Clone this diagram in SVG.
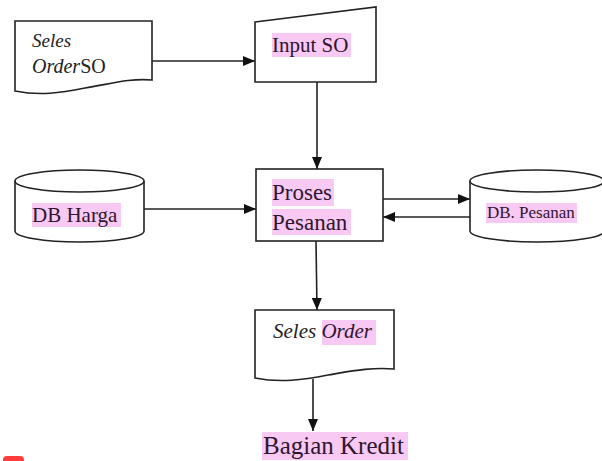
<svg xmlns="http://www.w3.org/2000/svg" width="602" height="461" viewBox="0 0 602 461">
  <style>
    .shape { fill: #ffffff; stroke: #222222; stroke-width: 1.6; }
    .edge { fill: none; stroke: #222222; stroke-width: 1.6; }
    .hl { fill: #f8c9f3; }
    text { font-family: 'Liberation Serif', 'DejaVu Serif', 'Times New Roman', serif; }
    .lbl { fill: #301530; }
    .plain { fill: #222222; }
    .it { font-style: italic; }
  </style>
  <defs>
    <marker id="arrow" viewBox="0 0 12 10" refX="12" refY="5" markerWidth="12" markerHeight="10" markerUnits="userSpaceOnUse" orient="auto">
      <path d="M0,0 L12,5 L0,10 Z" fill="#111111"/>
    </marker>
  </defs>

  <rect width="602" height="461" fill="#ffffff"/>

  <!-- connectors -->
  <g id="connectors">
    <line class="edge" x1="152" y1="61" x2="255" y2="61" marker-end="url(#arrow)"/>
    <line class="edge" x1="317" y1="82" x2="317" y2="169" marker-end="url(#arrow)"/>
    <line class="edge" x1="144" y1="209" x2="256" y2="209" marker-end="url(#arrow)"/>
    <line class="edge" x1="383" y1="199" x2="470" y2="199" marker-end="url(#arrow)"/>
    <line class="edge" x1="470" y1="217" x2="383" y2="217" marker-end="url(#arrow)"/>
    <line class="edge" x1="316" y1="241" x2="317" y2="310" marker-end="url(#arrow)"/>
    <line class="edge" x1="313" y1="379" x2="313" y2="431" marker-end="url(#arrow)"/>
  </g>

  <!-- source document -->
  <g id="seles-order-so">
    <path class="shape" d="M15,21 H152 V80 C130,78 110,84 85,88 C60,93 40,96 15,91 Z"/>
    <text class="plain it" x="32" y="47" font-size="19">Seles</text>
    <text class="plain" x="32" y="73" font-size="20"><tspan class="it">Order</tspan>SO</text>
  </g>

  <!-- manual input -->
  <g id="input-so">
    <path class="shape" d="M255,22 L376,7 V82 H255 Z"/>
    <rect class="hl" x="272" y="33" width="79" height="24"/>
    <text class="lbl" x="272" y="52" font-size="21">Input SO</text>
  </g>

  <!-- price database -->
  <g id="db-harga">
    <path class="shape" d="M15,181 V231 A64.5,11 0 0 0 144,231 V181"/>
    <ellipse class="shape" cx="79.5" cy="181" rx="64.5" ry="11"/>
    <rect class="hl" x="32" y="203" width="89" height="24"/>
    <text class="lbl" x="32" y="222" font-size="21">DB Harga</text>
  </g>

  <!-- process -->
  <g id="proses-pesanan">
    <rect class="shape" x="256" y="169" width="127" height="72"/>
    <rect class="hl" x="272" y="179" width="62" height="27"/>
    <rect class="hl" x="272" y="209" width="79" height="26"/>
    <text class="lbl" x="272" y="200" font-size="23">Proses</text>
    <text class="lbl" x="272" y="230" font-size="23">Pesanan</text>
  </g>

  <!-- order database -->
  <g id="db-pesanan">
    <path class="shape" d="M470,181 V231 A67,11 0 0 0 604,231 V181"/>
    <ellipse class="shape" cx="537" cy="181" rx="67" ry="11"/>
    <rect class="hl" x="486" y="203" width="91" height="20"/>
    <text class="lbl" x="487" y="218" font-size="17">DB. Pesanan</text>
  </g>

  <!-- output document -->
  <g id="seles-order">
    <path class="shape" d="M255,310 H394 V369 C372,367 352,371 328,375 C303,380 280,383 255,378 Z"/>
    <rect class="hl" x="322" y="320" width="54" height="25"/>
    <text class="plain it" x="273" y="338" font-size="21">Seles <tspan fill="#301530">Order</tspan></text>
  </g>

  <!-- destination -->
  <g id="bagian-kredit">
    <rect class="hl" x="262" y="432" width="146" height="28"/>
    <text class="lbl" x="263" y="454" font-size="25">Bagian Kredit</text>
  </g>

  <rect x="3" y="456" width="21" height="10" rx="4" fill="#ff3b3b"/>
</svg>
